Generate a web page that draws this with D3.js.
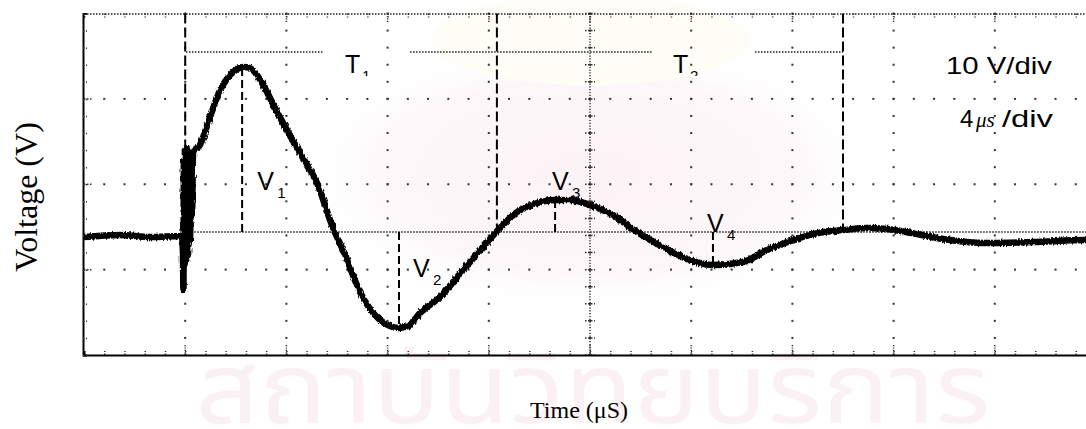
<!DOCTYPE html>
<html>
<head>
<meta charset="utf-8">
<script src="https://cdn.jsdelivr.net/npm/d3@7"></script>
<style>
  html, body { margin: 0; padding: 0; background: #fff; overflow: hidden; }
  svg { display: block; }
</style>
</head>
<body>
<svg id="chart" width="1086" height="429"></svg>
<script>
// Oscilloscope capture of a damped oscillation (10 V/div, 4 μs/div)

// visible screen window
const screenTime = [0, 40];        // μs, 10 divisions
const screenVolt = [-14.4, 25.6];  // V, 4 divisions
const voltsPerDiv = 10;
const timePerDiv = 4;
const minorPerDiv = 5;

// recorded trace
const traceTime = [0, 1.42, 2.61, 3.87, 3.91, 3.93, 3.95, 3.97, 3.99, 4.03, 4.07, 4.11, 4.15, 4.19,
  4.23, 4.27, 4.31, 4.58, 4.98, 5.38, 5.77, 6.05, 6.28, 6.56, 6.84, 7.15, 7.55, 8.02, 8.54, 9.21,
  9.80, 10.32, 10.91, 11.70, 12.09, 12.41, 12.81, 13.28, 14.07, 14.98, 15.77, 16.44, 17.11, 17.91,
  18.62, 19.21, 20.00, 20.91, 21.86, 22.89, 23.95, 24.86, 26.05, 26.99, 28.02, 28.97, 30.00, 30.95,
  31.74, 32.92, 34.23, 35.53, 37.51, 39.60, 40.0];
const traceVolt = [-0.59, -0.35, -0.59, -0.47, -2.34, -6.79, 8.43, -3.86, 9.60, -3.51, 9.84, -2.69, 8.43, -0.94,
  8.67, 1.99, 9.37, 10.19, 13.47, 16.63, 18.38, 19.09, 19.32, 19.20, 18.38, 16.86, 14.52, 11.94, 9.25, 5.74,
  0.82, -2.69, -7.03, -10.30, -11.01, -11.24, -11.01, -9.49, -7.61, -4.45, -1.76, 0.47, 2.34, 3.40,
  3.75, 3.75, 3.16, 1.99, 0.00, -1.76, -3.28, -3.86, -3.51, -2.11, -0.94, -0.12, 0.23, 0.47,
  0.35, -0.23, -0.94, -1.29, -1.17, -0.94, -0.94];

// period cursors and their labels
const periodMarks = [4.0, 16.32, 30.0];
const periodLevel = 21.1;
const periodNames = ["1", "2"];
const periodLabelTime = [10.32, 23.28];
// the level line is broken around each period label
const periodLineSpans = [[4.03, 9.45], [12.89, 22.45], [26.52, 30.0]];

// peak cursors
const peakNames = ["1", "2", "3", "4"];
const peakTime = [6.25, 12.45, 18.62, 24.86];
const peakVolt = [19.3, -11.2, 3.75, -3.86];

const scaleNotes = ["10 V/div", "/div"];

const svg = d3.select("#chart");
const W = 1086, H = 429;
const plotL = 84, plotR = 1096, plotT = 13.5, plotB = 355;

const x = d3.scaleLinear().domain(screenTime).range([plotL, plotR]);
const y = d3.scaleLinear().domain(screenVolt).range([plotB, plotT]);

const defs = svg.append("defs");
const rough = defs.append("filter").attr("id", "rough")
  .attr("filterUnits", "userSpaceOnUse")
  .attr("x", 0).attr("y", 0).attr("width", W).attr("height", H);
rough.append("feTurbulence").attr("type", "fractalNoise")
  .attr("baseFrequency", "0.6 0.15").attr("numOctaves", 2).attr("seed", 7).attr("result", "n");
rough.append("feDisplacementMap").attr("in", "SourceGraphic").attr("in2", "n")
  .attr("scale", 4).attr("xChannelSelector", "R").attr("yChannelSelector", "G");

defs.append("clipPath").attr("id", "screen").append("rect")
  .attr("x", 0).attr("y", 0).attr("width", W).attr("height", H);
defs.append("clipPath").attr("id", "subcut").append("rect")
  .attr("x", 0).attr("y", 0).attr("width", W).attr("height", 76);

// faint watermark behind the screen
const wm = svg.append("g").attr("class", "watermark");
const glow = defs.append("radialGradient").attr("id", "glow");
glow.append("stop").attr("offset", "0%").attr("stop-color", "#fcf3f6");
glow.append("stop").attr("offset", "70%").attr("stop-color", "#fdf7f9");
glow.append("stop").attr("offset", "100%").attr("stop-color", "#ffffff").attr("stop-opacity", 0);
wm.append("ellipse").attr("cx", 590).attr("cy", 175).attr("rx", 290).attr("ry", 140).attr("fill", "url(#glow)");
wm.append("ellipse").attr("cx", 590).attr("cy", 40).attr("rx", 160).attr("ry", 45).attr("fill", "#fefef7");
wm.append("text").attr("x", 195).attr("y", 423)
  .attr("textLength", 795).attr("lengthAdjust", "spacingAndGlyphs")
  .attr("font-family", "'Noto Sans Thai', Loma, Garuda, 'Noto Sans', sans-serif")
  .attr("font-size", 98).attr("fill", "#fbf0f4")
  .text("สถาบันวิทยบริการ");

const g = svg.append("g").attr("clip-path", "url(#screen)");

function divisionsCount(dom, per) { return Math.round((dom[1] - dom[0]) / per); }
// minor and major positions
const minorT = d3.range(0, divisionsCount(screenTime, timePerDiv) * minorPerDiv + 1)
  .map(i => screenTime[0] + i * timePerDiv / minorPerDiv);
const minorV = d3.range(0, divisionsCount(screenVolt, voltsPerDiv) * minorPerDiv + 1)
  .map(i => screenVolt[0] + i * voltsPerDiv / minorPerDiv);
const majorT = minorT.filter((d, i) => i % minorPerDiv === 0);
const majorV = minorV.filter((d, i) => i % minorPerDiv === 0);

const ink = "#1a1a1a";

// grid dots along major lines
const dotG = g.append("g").attr("fill", "#333");
majorV.slice(1, -1).forEach(v => {
  minorT.forEach(t => dotG.append("rect").attr("x", x(t) - 1).attr("y", y(v) - 1).attr("width", 2).attr("height", 2));
});
majorT.slice(1, -1).forEach(t => {
  minorV.forEach(v => dotG.append("rect").attr("x", x(t) - 1).attr("y", y(v) - 1).attr("width", 2).attr("height", 2));
});

// centre graticule with cross ticks
const centreT = (screenTime[0] + screenTime[1]) / 2;
g.append("line").attr("x1", x(centreT)).attr("x2", x(centreT)).attr("y1", plotT).attr("y2", plotB)
  .attr("stroke", "#333").attr("stroke-width", 1.5).attr("stroke-dasharray", "1.2,1.6");
minorV.forEach(v => g.append("line")
  .attr("x1", x(centreT) - 5).attr("x2", x(centreT) + 5).attr("y1", y(v)).attr("y2", y(v))
  .attr("stroke", "#333").attr("stroke-width", 1.5).attr("stroke-dasharray", "1.5,1.5"));

// frame: axes with minor ticks
const axTop = d3.axisBottom(x).tickValues(minorT).tickSize(4).tickFormat("");
const axBottom = d3.axisTop(x).tickValues(minorT).tickSize(4).tickFormat("");
const axLeft = d3.axisRight(y).tickValues(minorV).tickSize(4).tickFormat("");

const gTop = g.append("g").attr("transform", `translate(0,${plotT})`).call(axTop);
gTop.select(".domain").attr("stroke", "#222").attr("stroke-width", 1.5).attr("stroke-dasharray", "1.5,1.5");
gTop.selectAll(".tick line").attr("stroke", "#333").attr("stroke-width", 1.5).attr("stroke-dasharray", "1.5,1.5");

const gBottom = g.append("g").attr("transform", `translate(0,${plotB})`).call(axBottom);
gBottom.select(".domain").attr("stroke", "#000").attr("stroke-width", 2);
gBottom.selectAll(".tick line").attr("stroke", "#333").attr("stroke-width", 1.5).attr("stroke-dasharray", "1.5,1.5");

const gLeft = g.append("g").attr("transform", `translate(${plotL - 1},0)`).call(axLeft);
gLeft.select(".domain").attr("stroke", "#000").attr("stroke-width", 2);
gLeft.selectAll(".tick line").attr("stroke", "#333").attr("stroke-width", 1.5).attr("stroke-dasharray", "1.5,1.5");

// longer dotted marks where major lines meet the frame
majorT.slice(1, -1).forEach(t => {
  g.append("line").attr("x1", x(t)).attr("x2", x(t)).attr("y1", plotT).attr("y2", plotT + 9)
    .attr("stroke", "#333").attr("stroke-width", 1.5).attr("stroke-dasharray", "1.2,1.2");
  g.append("line").attr("x1", x(t)).attr("x2", x(t)).attr("y1", plotB - 10).attr("y2", plotB)
    .attr("stroke", "#333").attr("stroke-width", 1.5).attr("stroke-dasharray", "1.2,1.2");
});
majorV.slice(1, -1).forEach(v => {
  g.append("line").attr("x1", plotL).attr("x2", plotL + 9).attr("y1", y(v)).attr("y2", y(v))
    .attr("stroke", "#333").attr("stroke-width", 1.5).attr("stroke-dasharray", "1.5,1.5");
});

// zero reference and period level lines
g.append("line").attr("x1", x(periodMarks[0])).attr("x2", plotR).attr("y1", y(0)).attr("y2", y(0))
  .attr("stroke", ink).attr("stroke-width", 1.5).attr("stroke-dasharray", "1.5,1.5");
periodLineSpans.forEach(s => g.append("line")
  .attr("x1", x(s[0])).attr("x2", x(s[1])).attr("y1", y(periodLevel)).attr("y2", y(periodLevel))
  .attr("stroke", ink).attr("stroke-width", 1.5).attr("stroke-dasharray", "1.5,1.5"));

// period cursors
periodMarks.forEach(t => g.append("line")
  .attr("x1", x(t)).attr("x2", x(t)).attr("y1", plotT).attr("y2", y(0))
  .attr("stroke", "#000").attr("stroke-width", 2).attr("stroke-dasharray", "10,4"));

// peak cursors
peakTime.forEach((t, i) => g.append("line")
  .attr("x1", x(t)).attr("x2", x(t)).attr("y1", y(0)).attr("y2", y(peakVolt[i]))
  .attr("stroke", "#000").attr("stroke-width", 2).attr("stroke-dasharray", "8,4"));

// the trace
const line = d3.line().x((d, i) => x(traceTime[i])).y(d => y(d)).curve(d3.curveMonotoneX);
g.append("path").datum(traceVolt).attr("d", line)
  .attr("fill", "none").attr("stroke", "#000").attr("stroke-width", 6.5)
  .attr("stroke-linejoin", "round").attr("filter", "url(#rough)");

// labels
const sans = "'Liberation Sans', Arial, sans-serif";
const serif = "'Liberation Serif', 'Times New Roman', serif";

periodNames.forEach((n, i) => {
  const lx = x(periodLabelTime[i]);
  g.append("text").attr("x", lx).attr("y", 73).attr("font-family", sans).attr("font-size", 25)
    .attr("fill", "#000").text("T");
  g.append("text").attr("x", lx + 17).attr("y", 81).attr("font-family", sans).attr("font-size", 15)
    .attr("fill", "#000").attr("clip-path", "url(#subcut)").text(n);
});

const peakLabelOffset = [[15, -42], [14, 45], [-3, -42], [-6, 0]];
peakNames.forEach((n, i) => {
  const lx = x(peakTime[i]) + peakLabelOffset[i][0];
  const ly = y(0) + peakLabelOffset[i][1];
  g.append("text").attr("x", lx).attr("y", ly).attr("font-family", sans).attr("font-size", 25)
    .attr("fill", "#000").text("V");
  g.append("text").attr("x", lx + 20).attr("y", ly + 8).attr("font-family", sans).attr("font-size", 15)
    .attr("fill", "#000").text(n);
});

g.append("text").attr("x", 946).attr("y", 74).attr("font-family", sans).attr("font-size", 24)
  .attr("textLength", 106).attr("lengthAdjust", "spacingAndGlyphs").attr("fill", "#000").text(scaleNotes[0]);
g.append("text").attr("x", 960).attr("y", 127).attr("font-family", sans).attr("font-size", 24)
  .attr("fill", "#000").text("4");
g.append("text").attr("x", 976).attr("y", 127).attr("font-family", serif).attr("font-style", "italic")
  .attr("font-size", 21).attr("fill", "#000").text("μs");
g.append("text").attr("x", 1002).attr("y", 127).attr("font-family", sans).attr("font-size", 24)
  .attr("textLength", 51).attr("lengthAdjust", "spacingAndGlyphs").attr("fill", "#000").text(scaleNotes[1]);

// axis titles
svg.append("text").attr("transform", "translate(37,197) rotate(-90)").attr("text-anchor", "middle")
  .attr("font-family", serif).attr("font-size", 32).attr("fill", "#000").text("Voltage (V)");
svg.append("text").attr("x", 530).attr("y", 418)
  .attr("font-family", serif).attr("font-size", 24).attr("fill", "#000").text("Time (μS)");
</script>
</body>
</html>
